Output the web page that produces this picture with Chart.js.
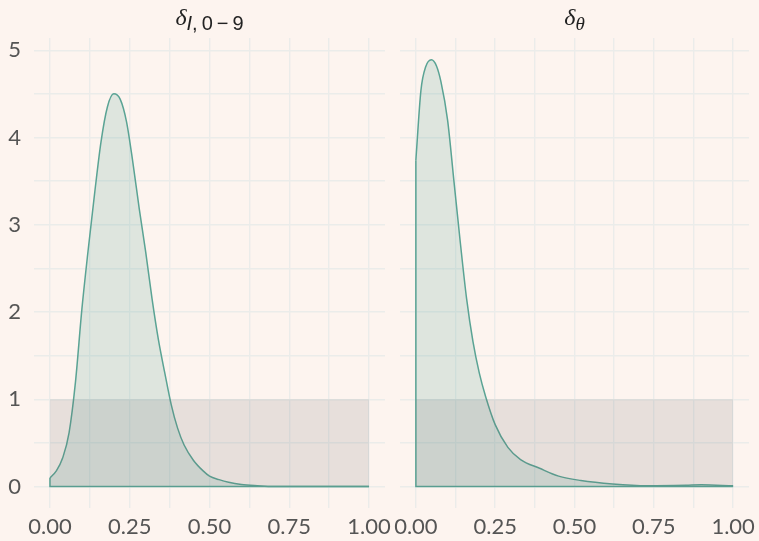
<!DOCTYPE html>
<html>
<head>
<meta charset="utf-8">
<script src="https://cdn.jsdelivr.net/npm/chart.js@4/dist/chart.umd.min.js"></script>
<style>
  html, body { margin: 0; padding: 0; background: #fdf4ef; }
  #wrap { position: relative; width: 759px; height: 541px; overflow: hidden; }
  .panel { position: absolute; top: 0; height: 541px; }
  #p1 { left: 0; width: 392px; }
  #p2 { left: 392px; width: 367px; }
</style>
</head>
<body>
<div id="wrap">
  <div class="panel" id="p1"><canvas id="c1"></canvas></div>
  <div class="panel" id="p2"><canvas id="c2"></canvas></div>
</div>
<script>
// 后验密度：δ_{I,0-9}
const idX = [0, 0.02, 0.04, 0.06, 0.08, 0.10, 0.12, 0.14, 0.16, 0.18, 0.20, 0.22, 0.24, 0.26, 0.28, 0.30,
             0.32, 0.34, 0.36, 0.38, 0.40, 0.42, 0.45, 0.48, 0.50, 0.53, 0.56, 0.60, 0.65, 0.70, 0.80, 0.90, 1.00];
const idY = [0.10, 0.18, 0.33, 0.62, 1.20, 2.03, 2.72, 3.36, 3.95, 4.35, 4.50, 4.44, 4.18, 3.71, 3.18, 2.69,
             2.15, 1.68, 1.30, 0.94, 0.67, 0.48, 0.30, 0.18, 0.12, 0.08, 0.05, 0.025, 0.01, 0, 0, 0, 0];

// 后验密度：δ_θ
const thX = [0, 0.016, 0.031, 0.049, 0.065, 0.079, 0.10, 0.12, 0.14, 0.16, 0.18, 0.20, 0.22, 0.25, 0.29,
             0.33, 0.39, 0.45, 0.52, 0.62, 0.73, 0.85, 0.90, 1.00];
const thY = [3.74, 4.54, 4.81, 4.89, 4.82, 4.64, 4.20, 3.50, 2.80, 2.15, 1.66, 1.30, 1.03, 0.71, 0.45,
             0.31, 0.21, 0.12, 0.07, 0.03, 0.01, 0.015, 0.02, 0.01];

// 均匀先验 U(0,1)
const priorX = [0, 0, 1, 1];
const priorY = [0, 1, 1, 0];

// 刻度
const xGrid = [0, 0.125, 0.25, 0.375, 0.5, 0.625, 0.75, 0.875, 1];
const xLabels = [0, 0.25, 0.5, 0.75, 1];
const yGrid = [0, 0.5, 1, 1.5, 2, 2.5, 3, 3.5, 4, 4.5, 5];
const yLabels = [0, 1, 2, 3, 4, 5];

const LINE = '#5aa394';
const FILL = 'rgba(90,163,148,0.19)';
const PRIOR = 'rgba(100,100,100,0.14)';
const GRID = '#ebecea';
const TICK = '#555555';

function pts(xs, ys) {
    return xs.map((x, i) => ({ x: x, y: ys[i] }));
}

// 标题插件：δ 加下标
const mathTitle = {
    id: 'mathTitle',
    afterDraw(chart, args, opts) {
        const ctx = chart.ctx;
        const area = chart.chartArea;
        const mainFont = 'italic 24px "Liberation Serif", serif';
        ctx.save();
        ctx.font = mainFont;
        const wMain = ctx.measureText('δ').width;
        let wSub = 0;
        opts.sub.forEach(p => {
            ctx.font = p.font;
            wSub += ctx.measureText(p.t).width;
        });
        let x = (area.left + area.right) / 2 - (wMain + wSub) / 2;
        const base = 25;
        ctx.fillStyle = '#222';
        ctx.textBaseline = 'alphabetic';
        ctx.font = mainFont;
        ctx.fillText('δ', x, base);
        x += wMain;
        opts.sub.forEach(p => {
            ctx.font = p.font;
            ctx.fillText(p.t, x, base + 5);
            x += ctx.measureText(p.t).width;
        });
        ctx.restore();
    }
};

function makeChart(id, xs, ys, showY, sub, padLeft, padRight) {
    const curve = pts(xs, ys);
    const edge = [{ x: xs[0], y: ys[0] }, { x: 0, y: 0 }, { x: 1, y: 0 }];
    return new Chart(document.getElementById(id), {
        type: 'scatter',
        data: {
            datasets: [
                {
                    data: pts(priorX, priorY),
                    showLine: true,
                    fill: 'origin',
                    backgroundColor: PRIOR,
                    borderWidth: 0,
                    pointRadius: 0,
                    tension: 0
                },
                {
                    data: curve,
                    showLine: true,
                    fill: 'origin',
                    backgroundColor: FILL,
                    borderColor: LINE,
                    borderWidth: 1.5,
                    pointRadius: 0,
                    cubicInterpolationMode: 'monotone'
                },
                {
                    data: edge,
                    showLine: true,
                    fill: false,
                    borderColor: LINE,
                    borderWidth: 1.5,
                    pointRadius: 0,
                    tension: 0
                }
            ]
        },
        options: {
            responsive: true,
            maintainAspectRatio: false,
            animation: false,
            events: [],
            layout: { padding: { top: 38, right: padRight, left: padLeft, bottom: 0 } },
            plugins: {
                legend: { display: false },
                tooltip: { enabled: false },
                mathTitle: { sub: sub }
            },
            scales: {
                x: {
                    type: 'linear',
                    min: -0.05,
                    max: 1.05,
                    afterBuildTicks: s => { s.ticks = xGrid.map(v => ({ value: v })); },
                    afterFit: s => {
                        s.height = 33;
                        s.paddingLeft = 0;
                        s.paddingRight = 0;
                    },
                    border: { display: false },
                    grid: { color: GRID, lineWidth: 1.4, drawTicks: false },
                    ticks: {
                        padding: 6,
                        color: TICK,
                        font: { family: 'Lato', size: 22 },
                        maxRotation: 0,
                        autoSkip: false,
                        callback: v => xLabels.includes(v) ? v.toFixed(2) : ''
                    }
                },
                y: {
                    type: 'linear',
                    min: -0.245,
                    max: 5.14,
                    afterBuildTicks: s => { s.ticks = yGrid.map(v => ({ value: v })); },
                    afterFit: s => {
                        s.width = showY ? 34 : 0;
                        s.paddingTop = 0;
                        s.paddingBottom = 0;
                    },
                    border: { display: false },
                    grid: { color: GRID, lineWidth: 1.4, drawTicks: false },
                    ticks: {
                        display: showY,
                        padding: 13,
                        color: TICK,
                        font: { family: 'Lato', size: 22 },
                        autoSkip: false,
                        callback: v => yLabels.includes(v) ? String(v) : ''
                    }
                }
            }
        },
        plugins: [mathTitle]
    });
}

const subFont = 'italic 20px "Liberation Sans", sans-serif';
const subFontUp = '20px "Liberation Sans", sans-serif';

makeChart('c1', idX, idY, true,
    [{ t: 'I', font: subFont }, { t: ',\u20090\u2009−\u20099', font: subFontUp }], 0, 7);
makeChart('c2', thX, thY, false,
    [{ t: 'θ', font: 'italic 19px "Liberation Serif", serif' }], 8, 10);
</script>
</body>
</html>
